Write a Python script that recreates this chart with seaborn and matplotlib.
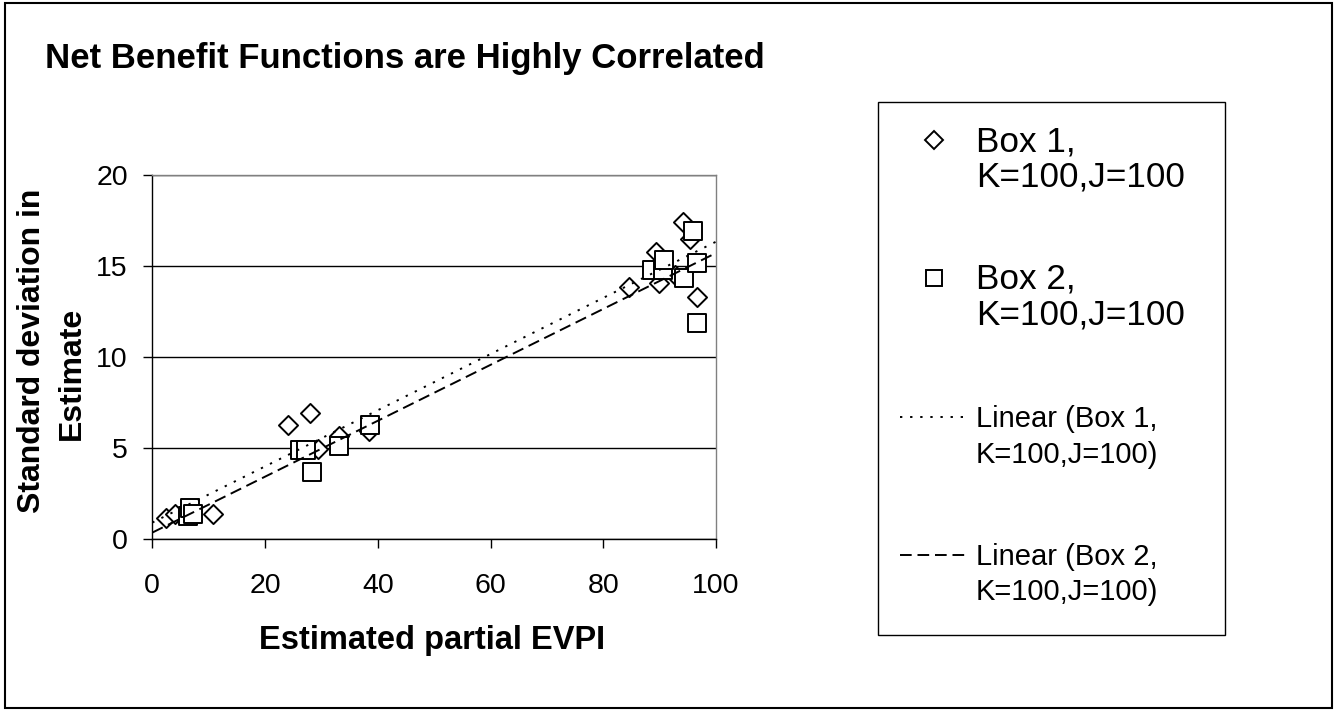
#!/usr/bin/env python3
"""
Scatter of EVPI estimate vs its standard deviation, two boxes with linear trends
"""

import numpy as np
import pandas as pd
import matplotlib
matplotlib.use("Agg")
import matplotlib.pyplot as plt
import seaborn as sns
from matplotlib.lines import Line2D
from matplotlib.legend_handler import HandlerLine2D
from matplotlib.patches import Rectangle

# values
box1_evpi = [2.4, 4.0, 10.7, 24.1, 28.0, 29.4, 33.2, 38.5, 84.6, 89.3, 89.9, 92.7, 94.1, 95.3, 96.6]
box1_sd = [1.15, 1.37, 1.37, 6.3, 6.92, 4.94, 5.65, 5.97, 13.87, 15.79, 14.05, 14.5, 17.44, 16.5, 13.29]

box2_evpi = [6.3, 6.6, 7.3, 26.2, 27.3, 28.4, 33.2, 38.7, 88.7, 90.6, 90.8, 94.4, 96.0, 96.7, 96.6]
box2_sd = [1.3, 1.72, 1.4, 4.9, 4.9, 3.71, 5.1, 6.27, 14.8, 14.8, 15.33, 14.33, 16.94, 15.19, 11.89]

series_labels = ["Box 1,\nK=100,J=100", "Box 2,\nK=100,J=100"]
trend_labels = ["Linear (Box 1,\nK=100,J=100)", "Linear (Box 2,\nK=100,J=100)"]
x_ticks = [0, 20, 40, 60, 80, 100]
y_ticks = [0, 5, 10, 15, 20]

W, H = 1335, 711


class FirstLineHandler(HandlerLine2D):
    """Legend handle lifted so it sits next to the first line of a 2-line label."""

    def __init__(self, dy, **kw):
        super().__init__(**kw)
        self.dy = dy

    def create_artists(self, legend, orig_handle, xdescent, ydescent,
                       width, height, fontsize, trans):
        arts = super().create_artists(legend, orig_handle, xdescent, ydescent,
                                      width, height, fontsize, trans)
        for a in arts:
            a.set_ydata(np.asarray(a.get_ydata()) + self.dy)
        return arts


def make_chart():
    sns.set_theme(style="white")
    plt.rcParams["font.family"] = ["Liberation Sans", "DejaVu Sans"]
    plt.rcParams["text.color"] = "black"
    plt.rcParams["axes.labelcolor"] = "black"
    plt.rcParams["xtick.color"] = "black"
    plt.rcParams["ytick.color"] = "black"

    df1 = pd.DataFrame({"evpi": box1_evpi, "sd": box1_sd})
    df2 = pd.DataFrame({"evpi": box2_evpi, "sd": box2_sd})

    fig = plt.figure(figsize=(W / 100, H / 100), dpi=100)
    fig.patch.set_facecolor("white")
    fig.patches.append(Rectangle((5 / W, 3 / H), 1327 / W, 705 / H, transform=fig.transFigure,
                                 fill=False, edgecolor="black", linewidth=1.5))

    ax = fig.add_axes([152.3 / W, 1 - 539.3 / H, 563.7 / W, 364.3 / H])
    ax.set_facecolor("white")
    ax.set_xlim(0, 100)
    ax.set_ylim(0, 20)
    ax.set_xticks(x_ticks)
    ax.set_yticks(y_ticks)
    ax.yaxis.grid(True, color="black", linewidth=1.0)
    ax.xaxis.grid(False)
    ax.set_axisbelow(True)

    # markers: squares drawn after diamonds, like the original
    sns.scatterplot(data=df1, x="evpi", y="sd", marker="D", s=95, color="white",
                    edgecolor="black", linewidth=1.4, ax=ax, zorder=3, legend=False)
    sns.scatterplot(data=df2, x="evpi", y="sd", marker="s", s=165, color="white",
                    edgecolor="black", linewidth=1.4, ax=ax, zorder=4, legend=False)

    # linear trend lines across the full axis
    sns.regplot(data=df1, x="evpi", y="sd", scatter=False, ci=None, truncate=False, ax=ax,
                line_kws=dict(color="black", linewidth=1.4, linestyle=(0, (1.2, 4)), zorder=5))
    sns.regplot(data=df2, x="evpi", y="sd", scatter=False, ci=None, truncate=False, ax=ax,
                line_kws=dict(color="black", linewidth=1.4, linestyle=(0, (6, 3)), zorder=5))
    ax.set_xlim(0, 100)

    for side in ["left", "bottom"]:
        ax.spines[side].set_color("black")
        ax.spines[side].set_linewidth(1.0)
    for side in ["top", "right"]:
        ax.spines[side].set_color("#808080")
        ax.spines[side].set_linewidth(1.0)

    ax.tick_params(axis="both", which="major", direction="out", length=6.5, width=1,
                   color="black", labelsize=20.5, bottom=True, left=True)
    ax.tick_params(axis="x", pad=18)
    ax.tick_params(axis="y", pad=11)

    ax.set_xlabel("")
    ax.set_ylabel("")
    ax.text(0.4957, -0.235, "Estimated partial EVPI", transform=ax.transAxes,
            ha="center", va="top", fontsize=23.5, fontweight="bold")
    ax.text(-0.2135, 0.518, "Standard deviation in", transform=ax.transAxes,
            ha="center", va="center", rotation=90, fontsize=23, fontweight="bold")
    ax.text(-0.1427, 0.455, "Estimate", transform=ax.transAxes,
            ha="center", va="center", rotation=90, fontsize=23, fontweight="bold")

    fig.text(45 / W, 1 - 42 / H, "Net Benefit Functions are Highly Correlated",
             ha="left", va="top", fontsize=25, fontweight="bold")

    # legend
    handles = [
        Line2D([], [], marker="D", markersize=9.5, linestyle="none",
               markerfacecolor="white", markeredgecolor="black", markeredgewidth=1.4),
        Line2D([], [], marker="s", markersize=12, linestyle="none",
               markerfacecolor="white", markeredgecolor="black", markeredgewidth=1.4),
        Line2D([], [], color="black", linewidth=1.4, linestyle=(0, (1.2, 4))),
        Line2D([], [], color="black", linewidth=1.4, linestyle=(0, (6, 3))),
    ]
    labels = series_labels + trend_labels
    lifts = [5.7, 5.7, 4.3, 4.3]
    leg_left, leg_top, leg_right = 878, 102, 1225
    leg = ax.legend(handles, labels, loc="upper left", mode="expand",
                    bbox_to_anchor=(leg_left / W, 1 - leg_top / H, (leg_right - leg_left) / W, 0),
                    bbox_transform=fig.transFigure, borderaxespad=0,
                    fontsize=25.3, frameon=True, fancybox=False, framealpha=1,
                    edgecolor="black", borderpad=0.62, labelspacing=1.72,
                    handleheight=3.0, handlelength=1.94, handletextpad=0.22,
                    handler_map={h: FirstLineHandler(d) for h, d in zip(handles, lifts)})
    leg.get_frame().set_linewidth(1.0)
    for t in leg.get_texts()[:2]:
        t.set_linespacing(1.1)
    for t in leg.get_texts()[2:]:
        t.set_fontsize(21)
        t.set_linespacing(1.34)

    fig.savefig("out.png", dpi=100)
    plt.close(fig)


if __name__ == "__main__":
    make_chart()
